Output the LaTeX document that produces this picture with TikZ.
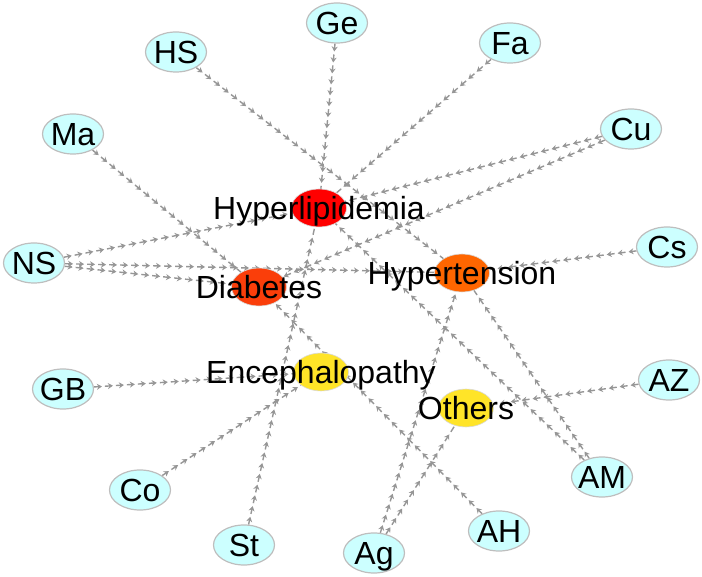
\documentclass[tikz,border=0pt]{standalone}
\usepackage{fontspec}
\setmainfont{Liberation Sans}
\usepackage{tikz}
\usetikzlibrary{positioning, shapes.geometric, arrows.meta, decorations.markings, backgrounds}

\definecolor{termcyan}{RGB}{204,255,255}
\definecolor{termborder}{RGB}{190,190,190}
\definecolor{edgegray}{RGB}{150,150,150}
\definecolor{hlred}{RGB}{255,0,0}
\definecolor{dbred}{RGB}{250,62,10}
\definecolor{htorange}{RGB}{255,102,0}
\definecolor{lowyellow}{RGB}{255,228,40}

\begin{document}
\begin{tikzpicture}[
    x=1pt, y=-1pt,
    term/.style={ellipse, draw=termborder, fill=termcyan, line width=1.2pt,
        minimum width=61pt, minimum height=40pt, inner xsep=-4pt, inner ysep=0pt,
        font=\fontsize{32}{36}\selectfont, text height=23pt, text depth=0pt},
    disease/.style={ellipse, draw=gray!30, line width=0.6pt,
        minimum width=55pt, minimum height=38pt, inner sep=0pt},
    every label/.style={font=\fontsize{32}{36}\selectfont, text height=23pt, text depth=0pt, inner sep=0pt},
    link/.style={draw=edgegray, line width=1.4pt, dash pattern=on 6pt off 5pt,
        postaction={decorate},
        decoration={markings,
            mark=between positions 8pt and 1 step 11pt with {\arrow{Stealth[length=5pt,width=6pt]}}}}
]
\useasboundingbox (0,0) rectangle (702,577);

% --- Diseases ---
\node[disease, fill=hlred, label={center:Hyperlipidemia}] (hyl) at (319,208) {};
\node[disease, fill=dbred, label={center:Diabetes}] (dia) at (259,287) {};
\node[disease, fill=htorange, label={center:Hypertension}] (hyt) at (462,273) {};
\node[disease, fill=lowyellow, label={center:Encephalopathy}] (enc) at (321,372) {};
\node[disease, fill=lowyellow, label={center:Others}] (oth) at (466,408) {};

% --- Terms ---
\node[term] (ge) at (337,23) {Ge};
\node[term] (hs) at (176,52) {HS};
\node[term] (fa) at (510,43) {Fa};
\node[term] (ma) at (73,134) {Ma};
\node[term] (cu) at (631,129) {Cu};
\node[term] (ns) at (34,263) {NS};
\node[term] (cs) at (667,247) {Cs};
\node[term] (gb) at (63,389) {GB};
\node[term] (az) at (669,380) {AZ};
\node[term] (co) at (140,490) {Co};
\node[term] (am) at (602,477) {AM};
\node[term] (st) at (244,545) {St};
\node[term] (ah) at (499,531) {AH};
\node[term] (ag) at (374,553) {Ag};

% --- Links (term -> disease) ---
\begin{pgfonlayer}{background}
\draw[link] (ge) -- (hyl);
\draw[link] (fa) -- (hyl);
\draw[link] (cu) -- (hyl);
\draw[link] (ns) -- (hyl);
\draw[link] (st) -- (hyl);
\draw[link] (am) -- (hyl);

\draw[link] (ma) -- (dia);
\draw[link] (ns) -- (dia);
\draw[link] (cu) -- (dia);
\draw[link] (ah) -- (dia);

\draw[link] (hs) -- (hyt);
\draw[link] (ns) -- (hyt);
\draw[link] (cs) -- (hyt);
\draw[link] (ag) -- (hyt);
\draw[link] (am) -- (hyt);

\draw[link] (gb) -- (enc);
\draw[link] (co) -- (enc);

\draw[link] (az) -- (oth);
\draw[link] (ag) -- (oth);
\end{pgfonlayer}

\end{tikzpicture}
\end{document}
